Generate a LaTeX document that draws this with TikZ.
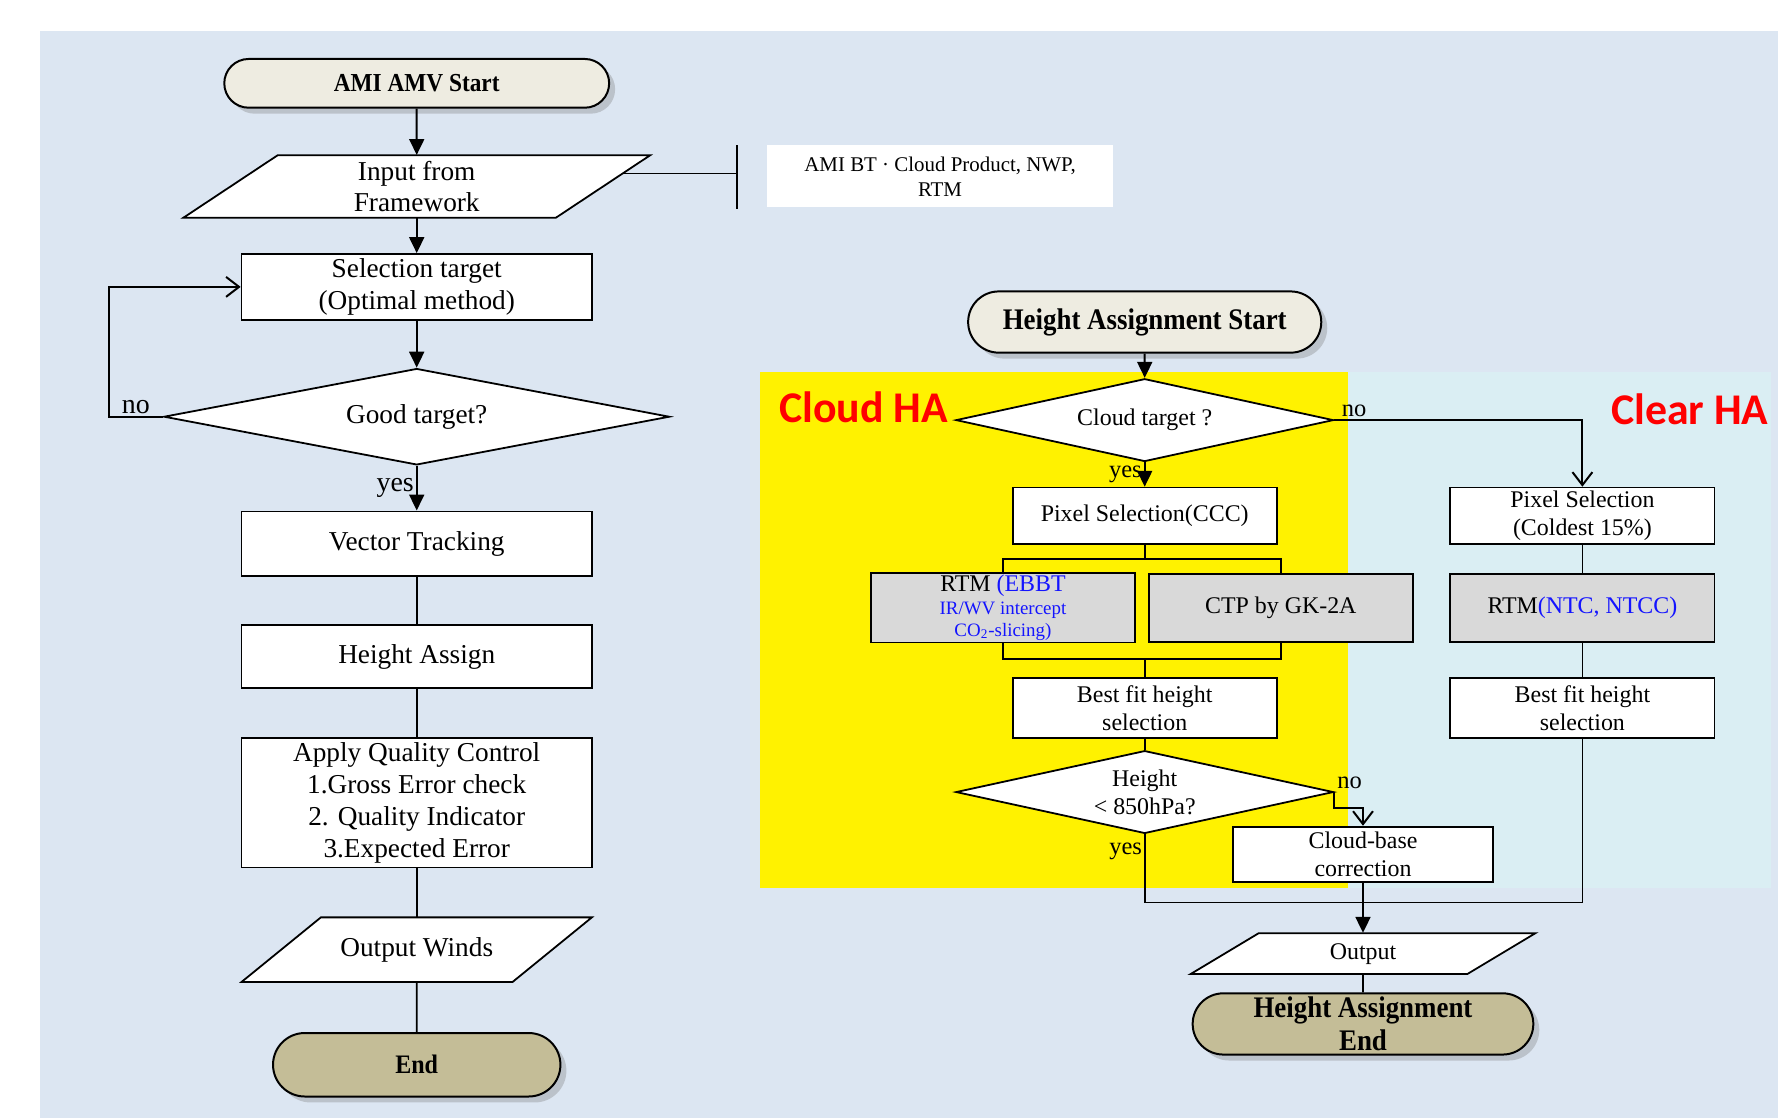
\documentclass[tikz,border=0pt]{standalone}
\usepackage{fontspec}
\setmainfont{Liberation Serif}
\newfontfamily\hafont{Carlito}
\newfontfamily\termfont[FakeStretch=0.9]{Liberation Serif}
\usepackage{xcolor}
\usetikzlibrary{arrows.meta,positioning,calc,shapes.geometric,shapes.misc,shadows}
\definecolor{bgcol}{RGB}{220,230,242}
\definecolor{clrcol}{RGB}{218,238,243}
\definecolor{startcol}{RGB}{238,236,225}
\definecolor{endcol}{RGB}{196,189,151}
\definecolor{rtmcol}{RGB}{217,217,217}
\definecolor{hacol}{RGB}{255,0,0}
\definecolor{bluecol}{RGB}{20,20,255}
\newcommand{\lcolfont}{\fontsize{13.7}{16}\selectfont}
\newcommand{\rcolfont}{\fontsize{12}{14.2}\selectfont}
% parallelogram: name, x, y, edge width, height, slant, font, text
\newcommand{\ioshape}[8]{%
  \draw[iopath] (#2-#4/2-#6/2,#3+#5/2) -- (#2+#4/2-#6/2,#3+#5/2)
    -- (#2+#4/2+#6/2,#3-#5/2) -- (#2-#4/2+#6/2,#3-#5/2) -- cycle;
  \node[iotext,minimum width={#4*0.02cm},minimum height={#5*0.02cm},font=#7] (#1) at (#2,#3) {#8};}

\tikzset{
  lbox/.style={draw,fill=white,line width=0.9pt,align=center,inner sep=1pt,
    minimum width=6.18cm,font=\lcolfont},
  rbox/.style={draw,fill=white,line width=0.9pt,align=center,inner sep=1pt,
    minimum width=4.66cm,minimum height=1cm,font=\rcolfont},
  greybox/.style={rbox,fill=rtmcol,minimum height=1.2cm},
  terminal/.style={rounded rectangle,draw,line width=1pt,align=center,inner sep=1pt,
    drop shadow={opacity=0.35,shadow xshift=3pt,shadow yshift=-3pt}},
  decision/.style={diamond,draw,fill=white,line width=0.9pt,inner sep=0pt,
    aspect=4.5,align=center},
  iopath/.style={draw,fill=white,line width=0.9pt},
  iotext/.style={align=center,inner sep=1pt},
  notebox/.style={fill=white,align=center,minimum width=6.12cm,minimum height=1.1cm,
    font=\fontsize{10.5}{12.5}\selectfont},
  halabel/.style={font=\hafont\bfseries\fontsize{22}{24}\selectfont,text=hacol,inner sep=0pt},
  arr/.style={line width=1pt,-{Triangle[length=8pt,width=7.5pt]}},
  openarr/.style={line width=1pt,-{Straight Barb[length=6.5pt,width=10pt]}},
  link/.style={line width=0.8pt},
  llbl/.style={font=\fontsize{14}{16}\selectfont,inner sep=1pt},
  rlbl/.style={font=\fontsize{12.3}{14}\selectfont,inner sep=1pt}
}

\begin{document}
\begin{tikzpicture}[x=0.02cm,y=-0.02cm]
  \useasboundingbox (0,0) rectangle (1568,986);
  \fill[bgcol] (35,27) rectangle (1568,986);
  \fill[yellow] (670,328) rectangle (1189,783);
  \fill[clrcol] (1189,328) rectangle (1562,783);
  \node[halabel,anchor=west] (cloudha) at (687,359) {Cloud HA};
  \node[halabel,anchor=east] (clearha) at (1560,361) {Clear HA};

  % AMV main flow
  \node[terminal,fill=startcol,minimum width=6.86cm,minimum height=0.86cm,
    font=\termfont\bfseries\fontsize{13}{15}\selectfont] (amistart) at (367.5,73.5) {AMI AMV Start};
  \ioshape{input}{367.5}{164.5}{328.5}{55}{83}{\lcolfont}{Input from\\Framework}
  \node[notebox] (note) at (829,155.5) {AMI BT · Cloud Product, NWP,\\RTM};
  \coordinate (inedge) at (549,153);
  \coordinate (bar) at (650,153);
  \node[lbox,minimum height=1.16cm] (sel) at (367.5,253) {Selection target\\(Optimal method)};
  \node[decision,minimum width=8.92cm,minimum height=1.7cm,font=\lcolfont] (good) at (367.5,367.5) {Good target?};
  \node[lbox,minimum height=1.14cm] (track) at (367.5,479.5) {Vector Tracking};
  \node[lbox,minimum height=1.12cm] (hassign) at (367.5,579) {Height Assign};
  \node[lbox,minimum height=2.28cm] (qc) at (367.5,708)
    {Apply Quality Control\\1.Gross Error check\\2. Quality Indicator\\3.Expected Error};
  \ioshape{outw}{367.5}{837.5}{239}{57}{70}{\lcolfont}{Output Winds}
  \node[terminal,fill=endcol,minimum width=5.14cm,minimum height=1.12cm,
    font=\termfont\bfseries\fontsize{13.4}{15}\selectfont] (endn) at (367.5,939) {End};

  \draw[arr] (amistart) -- (input);
  \draw[link] (inedge) -- (bar);
  \draw[link] ($(bar)+(0,-25)$) -- ($(bar)+(0,31)$);
  \draw[arr] (input) -- (sel);
  \draw[arr] (sel) -- (good);
  \draw[openarr] (good.west) -- node[above,llbl]{no} ++(-48,0) |- (sel.west);
  \draw[arr] (good.south) -- node[left,llbl]{yes} (track.north);
  \draw[link] (track) -- (hassign);
  \draw[link] (hassign) -- (qc);
  \draw[link] (qc) -- (outw);
  \draw[link] (outw) -- (endn);

  % height assignment flow
  \node[terminal,fill=startcol,minimum width=6.3cm,minimum height=1.08cm,
    font=\termfont\bfseries\fontsize{15}{17}\selectfont] (hastart) at (1009.5,284) {Height Assignment Start};
  \node[decision,minimum width=6.66cm,minimum height=1.46cm,font=\rcolfont] (cloudt) at (1009.5,370.5) {Cloud target ?};
  \node[rbox] (ccc) at (1009.5,455) {Pixel Selection(CCC)};
  \node[greybox] (rtm) at (884.5,536) {RTM \textcolor{bluecol}{(EBBT}\\[-3pt]
    {\fontsize{9.5}{11}\selectfont\color{bluecol}IR/WV intercept}\\[-3pt]
    {\fontsize{9.5}{11}\selectfont\color{bluecol}CO\textsubscript{2}-slicing)}};
  \node[greybox] (ctp) at (1129.5,536) {CTP by GK-2A};
  \node[rbox,minimum height=1.06cm] (bestc) at (1009.5,624.5) {Best fit height\\selection};
  \node[decision,minimum width=6.66cm,minimum height=1.46cm,font=\rcolfont] (hgt) at (1009.5,698.5) {Height\\\textless{} 850hPa?};
  \node[rbox,minimum width=4.6cm,minimum height=0.98cm] (cbase) at (1202,753.5) {Cloud-base\\correction};
  \ioshape{outp}{1202}{841}{244}{36}{60}{\rcolfont}{Output}
  \node[terminal,fill=endcol,minimum width=6.08cm,minimum height=1.08cm,
    font=\termfont\bfseries\fontsize{15}{16.4}\selectfont] (haend) at (1202,903) {Height Assignment\\End};
  \node[rbox] (coldest) at (1395.5,455) {Pixel Selection\\(Coldest 15\%)};
  \node[greybox] (rtmclr) at (1395.5,536) {RTM\textcolor{bluecol}{(NTC, NTCC)}};
  \node[rbox,minimum height=1.06cm] (bestclr) at (1395.5,624.5) {Best fit height\\selection};

  \coordinate (split) at (1009.5,493);
  \coordinate (merge) at (1009.5,581);
  \coordinate (join) at (1202,796);
  \draw[arr] (hastart) -- (cloudt);
  \draw[arr] (cloudt.south) -- node[left,rlbl]{yes} (ccc.north);
  \draw[openarr] (cloudt.east) -| node[pos=0.04,above,rlbl]{no} (coldest.north);
  \draw[link] (ccc) -- (split);
  \draw[link] (rtm.north) |- (split) -| (ctp.north);
  \draw[link] (rtm.south) |- (merge) -| (ctp.south);
  \draw[link] (merge) -- (bestc);
  \draw[link] (bestc) -- (hgt);
  \draw[openarr] (hgt.east) node[above right,rlbl]{no} -- ++(0,14) -| (cbase.north);
  \draw[link] (hgt.south) -- node[left,pos=0.25,rlbl]{yes} (hgt.south |- join)
    -- (bestclr.south |- join) -- (bestclr.south);
  \draw[arr] (cbase) -- (outp);
  \draw[link] (outp) -- (haend);
  \draw[link] (coldest) -- (rtmclr);
  \draw[link] (rtmclr) -- (bestclr);
\end{tikzpicture}
\end{document}
